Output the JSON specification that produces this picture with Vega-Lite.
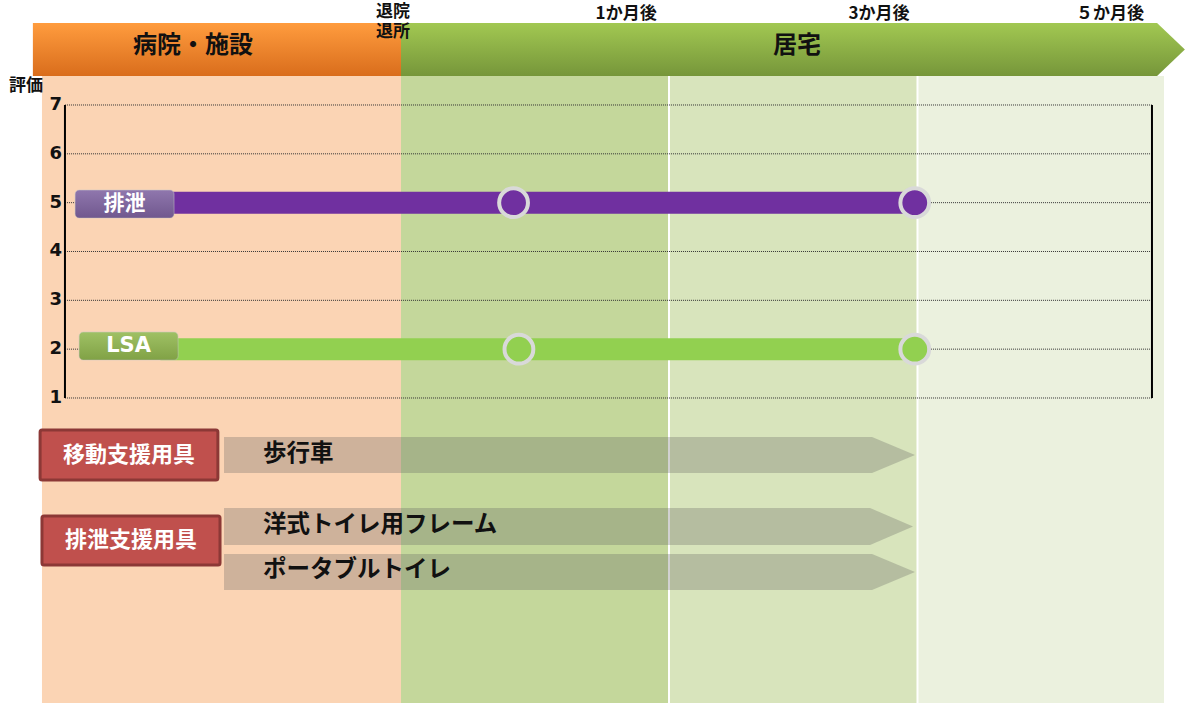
{
  "$schema": "https://vega.github.io/schema/vega-lite/v6.json",
  "width": 1185,
  "height": 703,
  "autosize": {"type": "fit", "contains": "padding"},
  "padding": 0,
  "background": "white",
  "config": {"view": {"stroke": null}},
  "resolve": {"scale": {"color": "independent"}},
  "datasets": {
    "bands": [
      {"phase": "病院・施設", "m": -1.343, "m2": 0, "r": 7.594, "r2": -5.246},
      {"phase": "退院〜1か月", "m": 0, "m2": 1, "r": 7.594, "r2": -5.246},
      {"phase": "1〜3か月", "m": 1, "m2": 3.012, "r": 7.594, "r2": -5.246},
      {"phase": "3〜5か月", "m": 3.012, "m2": 5, "r": 7.594, "r2": -5.246}
    ],
    "seps": [
      {"m": 1.0, "r": 7.594, "r2": -5.246},
      {"m": 3.012, "r": 7.594, "r2": -5.246}
    ],
    "headerBar": [
      {"m": -1.377, "m2": 0, "r": 8.679, "r2": 7.594}
    ],
    "headerArrow": [
      {"m": 0, "r": 8.679, "r2": 7.594},
      {"m": 4.944, "r": 8.679, "r2": 7.594},
      {"m": 5.169, "r": 8.137, "r2": 8.137}
    ],
    "grid": [
      {"r": 1, "m": -1.257, "m2": 4.903},
      {"r": 2, "m": -1.257, "m2": 4.903},
      {"r": 3, "m": -1.257, "m2": 4.903},
      {"r": 4, "m": -1.257, "m2": 4.903},
      {"r": 5, "m": -1.257, "m2": 4.903},
      {"r": 6, "m": -1.257, "m2": 4.903},
      {"r": 7, "m": -1.257, "m2": 4.903}
    ],
    "axisLines": [
      {"m": -1.257, "r": 1, "r2": 7},
      {"m": 4.903, "r": 1, "r2": 7}
    ],
    "series": [
      {"series": "排泄", "m": -0.9, "r": 5},
      {"series": "排泄", "m": 0.42, "r": 5},
      {"series": "排泄", "m": 2.99, "r": 5},
      {"series": "LSA", "m": -0.9, "r": 2},
      {"series": "LSA", "m": 0.44, "r": 2},
      {"series": "LSA", "m": 2.99, "r": 2}
    ],
    "points": [
      {"series": "排泄", "m": 0.42, "r": 5},
      {"series": "排泄", "m": 2.99, "r": 5},
      {"series": "LSA", "m": 0.44, "r": 2},
      {"series": "LSA", "m": 2.99, "r": 2}
    ],
    "seriesBoxes": [
      {"series": "排泄", "m": -1.219, "m2": -0.849, "r": 5.259, "r2": 4.686, "tm": -1.034, "tr": 4.973},
      {"series": "LSA", "m": -1.204, "m2": -0.834, "r": 2.351, "r2": 1.778, "tm": -1.019, "tr": 2.065}
    ],
    "catBoxes": [
      {"label": "移動支援用具", "m": -1.35, "m2": -0.685, "r": 0.345, "r2": -0.679, "tm": -1.017, "tr": -0.167},
      {"label": "排泄支援用具", "m": -1.343, "m2": -0.677, "r": -1.416, "r2": -2.42, "tm": -1.01, "tr": -1.908}
    ],
    "equipArrows": [
      {"g": "歩行車", "m": -0.662, "r": 0.201, "r2": -0.536},
      {"g": "歩行車", "m": 2.644, "r": 0.201, "r2": -0.536},
      {"g": "歩行車", "m": 2.992, "r": -0.167, "r2": -0.167},
      {"g": "洋式トイレ用フレーム", "m": -0.662, "r": -1.253, "r2": -2.01},
      {"g": "洋式トイレ用フレーム", "m": 2.628, "r": -1.253, "r2": -2.01},
      {"g": "洋式トイレ用フレーム", "m": 2.976, "r": -1.632, "r2": -1.632},
      {"g": "ポータブルトイレ", "m": -0.662, "r": -2.195, "r2": -2.932},
      {"g": "ポータブルトイレ", "m": 2.644, "r": -2.195, "r2": -2.932},
      {"g": "ポータブルトイレ", "m": 2.992, "r": -2.563, "r2": -2.563}
    ],
    "equipLabels": [
      {"label": "歩行車", "m": -0.516, "r": -0.147},
      {"label": "洋式トイレ用フレーム", "m": -0.516, "r": -1.601},
      {"label": "ポータブルトイレ", "m": -0.516, "r": -2.522}
    ],
    "headerTitles": [
      {"label": "病院・施設", "m": -0.778, "r": 8.208},
      {"label": "居宅", "m": 2.036, "r": 8.208}
    ],
    "headerMarks": [
      {"label": "退院\n退所", "m": -0.03, "r": 8.905},
      {"label": "1か月後", "m": 0.84, "r": 8.87},
      {"label": "3か月後", "m": 2.7, "r": 8.87},
      {"label": "５か月後", "m": 4.565, "r": 8.87}
    ],
    "yTitle": [
      {"label": "評価", "m": -1.403, "r": 7.389}
    ],
    "yLabels": [
      {"label": "1", "m": -1.268, "r": 1},
      {"label": "2", "m": -1.268, "r": 2},
      {"label": "3", "m": -1.268, "r": 3},
      {"label": "4", "m": -1.268, "r": 4},
      {"label": "5", "m": -1.268, "r": 5},
      {"label": "6", "m": -1.268, "r": 6},
      {"label": "7", "m": -1.268, "r": 7}
    ]
  },
  "encoding": {
    "x": {
      "field": "m",
      "type": "quantitative",
      "scale": {"domain": [-1.5, 0, 1, 3, 5, 5.17], "range": [0, 401, 669, 916, 1164, 1185], "nice": false, "zero": false},
      "axis": null
    },
    "y": {
      "field": "r",
      "type": "quantitative",
      "scale": {"domain": [-5.246, 9.15], "range": [703, 0], "nice": false, "zero": false},
      "axis": null
    }
  },
  "layer": [
    {
      "data": {"name": "bands"},
      "mark": {"type": "rect"},
      "encoding": {
        "x2": {"field": "m2"},
        "y2": {"field": "r2"},
        "color": {
          "field": "phase",
          "type": "nominal",
          "scale": {"domain": ["病院・施設", "退院〜1か月", "1〜3か月", "3〜5か月"], "range": ["#FBD4B4", "#C4D79B", "#D8E4BC", "#EBF1DE"]},
          "legend": null
        }
      }
    },
    {
      "data": {"name": "seps"},
      "mark": {"type": "rule", "color": "white", "strokeWidth": 2},
      "encoding": {"y2": {"field": "r2"}}
    },
    {
      "data": {"name": "headerBar"},
      "mark": {
        "type": "rect",
        "color": {"gradient": "linear", "x1": 0, "y1": 0, "x2": 0, "y2": 1, "stops": [{"offset": 0, "color": "#FF9C3E"}, {"offset": 1, "color": "#D96D1C"}]}
      },
      "encoding": {"x2": {"field": "m2"}, "y2": {"field": "r2"}}
    },
    {
      "data": {"name": "headerArrow"},
      "mark": {
        "type": "area",
        "color": {"gradient": "linear", "x1": 0, "y1": 0, "x2": 0, "y2": 1, "stops": [{"offset": 0, "color": "#A2C852"}, {"offset": 1, "color": "#76963A"}]}
      },
      "encoding": {"y2": {"field": "r2"}}
    },
    {
      "data": {"name": "grid"},
      "mark": {"type": "rule", "color": "#333333", "strokeWidth": 1, "strokeDash": [1, 1]},
      "encoding": {"x2": {"field": "m2"}}
    },
    {
      "data": {"name": "axisLines"},
      "mark": {"type": "rule", "color": "black", "strokeWidth": 2},
      "encoding": {"y2": {"field": "r2"}}
    },
    {
      "data": {"name": "series"},
      "mark": {"type": "line", "strokeWidth": 22, "strokeCap": "butt"},
      "encoding": {
        "color": {"field": "series", "type": "nominal", "scale": {"domain": ["排泄", "LSA"], "range": ["#7030A0", "#92D050"]}, "legend": null}
      }
    },
    {
      "data": {"name": "points"},
      "mark": {"type": "point", "shape": "circle", "filled": true, "size": 830, "stroke": "#D9D9D9", "strokeWidth": 4, "opacity": 1, "fillOpacity": 1, "strokeOpacity": 1},
      "encoding": {
        "fill": {"field": "series", "type": "nominal", "scale": {"domain": ["排泄", "LSA"], "range": ["#7030A0", "#92D050"]}, "legend": null}
      }
    },
    {
      "data": {"name": "seriesBoxes"},
      "mark": {"type": "rect", "cornerRadius": 4, "stroke": "#C9C9C9", "strokeWidth": 1, "strokeOpacity": 0.5},
      "encoding": {
        "x2": {"field": "m2"},
        "y2": {"field": "r2"},
        "color": {"field": "series", "type": "nominal", "scale": {"domain": ["排泄", "LSA"], "range": ["#8064A2", "#92B84F"]}, "legend": null}
      }
    },
    {
      "data": {"name": "seriesBoxes"},
      "mark": {
        "type": "rect",
        "cornerRadius": 4,
        "color": {"gradient": "linear", "x1": 0, "y1": 0, "x2": 0, "y2": 1, "stops": [{"offset": 0, "color": "rgba(255,255,255,0.12)"}, {"offset": 1, "color": "rgba(0,0,0,0.12)"}]}
      },
      "encoding": {"x2": {"field": "m2"}, "y2": {"field": "r2"}}
    },
    {
      "data": {"name": "seriesBoxes"},
      "mark": {"type": "text", "font": "DejaVu Sans, Noto Sans CJK JP", "fontWeight": "bold", "fontSize": 21, "color": "white", "align": "center", "baseline": "middle"},
      "encoding": {
        "x": {"field": "tm", "type": "quantitative"},
        "y": {"field": "tr", "type": "quantitative"},
        "text": {"field": "series"}
      }
    },
    {
      "data": {"name": "catBoxes"},
      "mark": {"type": "rect", "color": "#C0504D", "stroke": "#8C3836", "strokeWidth": 3, "cornerRadius": 2},
      "encoding": {"x2": {"field": "m2"}, "y2": {"field": "r2"}}
    },
    {
      "data": {"name": "catBoxes"},
      "mark": {"type": "text", "font": "Noto Sans CJK JP", "fontWeight": "bold", "fontSize": 22, "color": "white", "align": "center", "baseline": "middle"},
      "encoding": {
        "x": {"field": "tm", "type": "quantitative"},
        "y": {"field": "tr", "type": "quantitative"},
        "text": {"field": "label"}
      }
    },
    {
      "data": {"name": "equipArrows"},
      "mark": {"type": "area", "color": "#595959", "opacity": 0.28},
      "encoding": {"y2": {"field": "r2"}, "detail": {"field": "g", "type": "nominal"}}
    },
    {
      "data": {"name": "equipLabels"},
      "mark": {"type": "text", "font": "Noto Sans CJK JP", "fontWeight": "bold", "fontSize": 23.5, "color": "#111111", "align": "left", "baseline": "middle"},
      "encoding": {"text": {"field": "label"}}
    },
    {
      "data": {"name": "headerTitles"},
      "mark": {"type": "text", "font": "Noto Sans CJK JP", "fontWeight": "bold", "fontSize": 24, "color": "#111111", "align": "center", "baseline": "middle"},
      "encoding": {"text": {"field": "label"}}
    },
    {
      "data": {"name": "headerMarks"},
      "mark": {"type": "text", "font": "Noto Sans CJK JP", "fontWeight": "bold", "fontSize": 17, "lineHeight": 20, "lineBreak": "\n", "color": "#111111", "align": "center", "baseline": "middle"},
      "encoding": {"text": {"field": "label"}}
    },
    {
      "data": {"name": "yTitle"},
      "mark": {"type": "text", "font": "Noto Sans CJK JP", "fontWeight": "bold", "fontSize": 17, "color": "#111111", "align": "center", "baseline": "middle"},
      "encoding": {"text": {"field": "label"}}
    },
    {
      "data": {"name": "yLabels"},
      "mark": {"type": "text", "font": "DejaVu Sans", "fontWeight": "bold", "fontSize": 18, "color": "#111111", "align": "right", "baseline": "middle"},
      "encoding": {"text": {"field": "label"}}
    }
  ]
}
